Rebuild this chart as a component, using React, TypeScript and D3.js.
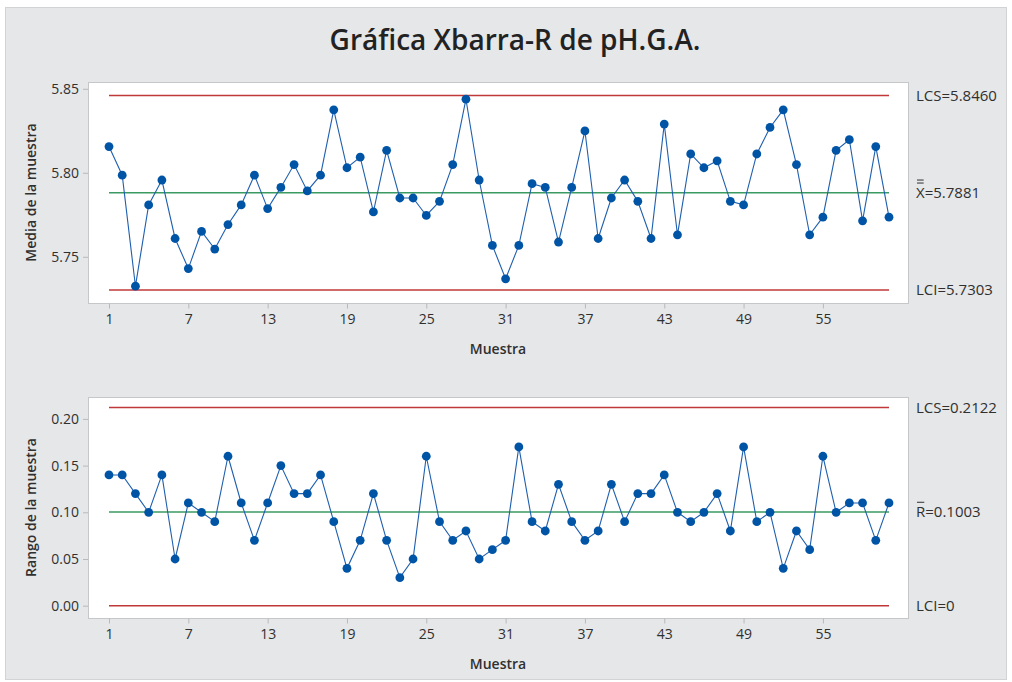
import React, { useRef, useEffect } from 'react';
import * as d3 from 'd3';

// medias por muestra (pH)
const sampleMeans = [
  5.8156, 5.7986, 5.7325, 5.7809, 5.7957, 5.7609, 5.7430, 5.7651, 5.7546, 5.7692,
  5.7809, 5.7986, 5.7787, 5.7913, 5.8049, 5.7892, 5.7986, 5.8375, 5.8030, 5.8093,
  5.7767, 5.8134, 5.7850, 5.7850, 5.7746, 5.7830, 5.8049, 5.8438, 5.7957, 5.7568,
  5.7369, 5.7568, 5.7935, 5.7913, 5.7588, 5.7913, 5.8249, 5.7609, 5.7850, 5.7957,
  5.7830, 5.7609, 5.8290, 5.7631, 5.8112, 5.8030, 5.8071, 5.7830, 5.7809, 5.8112,
  5.8270, 5.8375, 5.8049, 5.7631, 5.7736, 5.8134, 5.8197, 5.7714, 5.8156, 5.7736,
];

// rangos por muestra
const sampleRanges = [
  0.14, 0.14, 0.12, 0.10, 0.14, 0.05, 0.11, 0.10, 0.09, 0.16,
  0.11, 0.07, 0.11, 0.15, 0.12, 0.12, 0.14, 0.09, 0.04, 0.07,
  0.12, 0.07, 0.03, 0.05, 0.16, 0.09, 0.07, 0.08, 0.05, 0.06,
  0.07, 0.17, 0.09, 0.08, 0.13, 0.09, 0.07, 0.08, 0.13, 0.09,
  0.12, 0.12, 0.14, 0.10, 0.09, 0.10, 0.12, 0.08, 0.17, 0.09,
  0.10, 0.04, 0.08, 0.06, 0.16, 0.10, 0.11, 0.11, 0.07, 0.11,
];

const xTicks = [1, 7, 13, 19, 25, 31, 37, 43, 49, 55];
const meanTicks = [5.75, 5.80, 5.85];
const rangeTicks = [0.0, 0.05, 0.10, 0.15, 0.20];

const meanLimits = { lcs: 5.8460, center: 5.7881, lci: 5.7303 };
const rangeLimits = { lcs: 0.2122, center: 0.1003, lci: 0 };

const W = 1012;
const H = 682;
const FONT = '"Open Sans", "Noto Sans", sans-serif';
const TEXT = '#303030';
const BLUE = '#0054A6';
const RED = '#C0383A';
const GREEN = '#3A9A62';

const App = () => {
  const svgRef = useRef<SVGSVGElement>(null);

  useEffect(() => {
    const svg = d3.select(svgRef.current);
    svg.selectAll('*').remove();

    // fondo del panel
    svg.append('rect')
      .attr('x', 5.5).attr('y', 7.5)
      .attr('width', 1001).attr('height', 672)
      .attr('fill', '#E6E7E9')
      .attr('stroke', '#D2D3D5');

    svg.append('text')
      .attr('x', 515).attr('y', 50)
      .attr('text-anchor', 'middle')
      .style('font-family', FONT)
      .style('font-size', '28px')
      .style('font-weight', 600)
      .style('fill', '#222')
      .text('Gráfica Xbarra-R de pH.G.A.');

    const plotLeft = 88;
    const plotRight = 908;

    const x = d3.scaleLinear()
      .domain([1, sampleMeans.length])
      .range([plotLeft + 21, plotRight - 19]);

    const drawPanel = (opts: {
      top: number;
      bottom: number;
      y: d3.ScaleLinear<number, number>;
      values: number[];
      ticks: number[];
      limits: { lcs: number; center: number; lci: number };
      yLabel: string;
      labels: { lcs: string; center: string; lci: string };
      bar: 'double' | 'single';
    }) => {
      const { top, bottom, y, values, ticks, limits } = opts;
      const g = svg.append('g');

      g.append('rect')
        .attr('x', plotLeft + 0.5).attr('y', top + 0.5)
        .attr('width', plotRight - plotLeft).attr('height', bottom - top)
        .attr('fill', '#fff')
        .attr('stroke', '#C6C7C9');

      const yAxis = d3.axisLeft(y)
        .tickValues(ticks)
        .tickFormat(d3.format('.2f'))
        .tickSize(5)
        .tickPadding(4);
      const ya = g.append('g')
        .attr('transform', `translate(${plotLeft},0)`)
        .call(yAxis);
      ya.select('.domain').remove();
      ya.selectAll('.tick line').attr('stroke', '#B8B9BB');
      ya.selectAll('.tick text')
        .style('font-family', FONT)
        .style('font-size', '14px')
        .style('fill', TEXT);

      const xAxis = d3.axisBottom(x)
        .tickValues(xTicks)
        .tickFormat(d3.format('d'))
        .tickSize(5)
        .tickPadding(6);
      const xa = g.append('g')
        .attr('transform', `translate(0,${bottom + 0.5})`)
        .call(xAxis);
      xa.select('.domain').remove();
      xa.selectAll('.tick line').attr('stroke', '#B8B9BB');
      xa.selectAll('.tick text')
        .style('font-family', FONT)
        .style('font-size', '14px')
        .style('fill', TEXT);

      g.append('text')
        .attr('x', (plotLeft + plotRight) / 2)
        .attr('y', bottom + 51)
        .attr('text-anchor', 'middle')
        .style('font-family', FONT)
        .style('font-size', '14px')
        .style('font-weight', 600)
        .style('fill', TEXT)
        .text('Muestra');

      g.append('text')
        .attr('transform', `translate(36,${(top + bottom) / 2}) rotate(-90)`)
        .attr('text-anchor', 'middle')
        .style('font-family', FONT)
        .style('font-size', '14px')
        .style('font-weight', 600)
        .style('fill', TEXT)
        .text(opts.yLabel);

      // lineas de control
      const x0 = x(1);
      const x1 = x(values.length);
      [
        { v: limits.lcs, c: RED },
        { v: limits.center, c: GREEN },
        { v: limits.lci, c: RED },
      ].forEach(l => {
        g.append('line')
          .attr('x1', x0).attr('x2', x1)
          .attr('y1', y(l.v)).attr('y2', y(l.v))
          .attr('stroke', l.c)
          .attr('stroke-width', 1.5);
      });

      const line = d3.line<number>()
        .x((d, i) => x(i + 1))
        .y(d => y(d));

      g.append('path')
        .datum(values)
        .attr('fill', 'none')
        .attr('stroke', '#1F5FAF')
        .attr('stroke-width', 1.1)
        .attr('d', line);

      g.selectAll('.point')
        .data(values)
        .enter()
        .append('circle')
        .attr('cx', (d, i) => x(i + 1))
        .attr('cy', d => y(d))
        .attr('r', 4.4)
        .attr('fill', BLUE);

      // etiquetas a la derecha
      const lx = plotRight + 8;
      const lab = (v: number, t: string) =>
        g.append('text')
          .attr('x', lx).attr('y', y(v))
          .attr('dy', '0.35em')
          .style('font-family', FONT)
          .style('font-size', '15px')
          .style('fill', TEXT)
          .text(t);
      lab(limits.lcs, opts.labels.lcs);
      lab(limits.lci, opts.labels.lci);
      const ct = lab(limits.center, opts.labels.center);
      const node = ct.node() as SVGTextElement;
      const ext = node.getExtentOfChar(0);
      const barY = ext.y + 1;
      const nBars = opts.bar === 'double' ? 2 : 1;
      for (let k = 0; k < nBars; k++) {
        g.append('line')
          .attr('x1', ext.x + 1).attr('x2', ext.x + ext.width - 1)
          .attr('y1', barY - k * 3).attr('y2', barY - k * 3)
          .attr('stroke', TEXT)
          .attr('stroke-width', 1);
      }
    };

    const yMean = d3.scaleLinear().domain([5.75, 5.85]).range([256.8, 88.8]);
    drawPanel({
      top: 82, bottom: 303, y: yMean, values: sampleMeans, ticks: meanTicks,
      limits: meanLimits, yLabel: 'Media de la muestra',
      labels: { lcs: 'LCS=5.8460', center: 'X=5.7881', lci: 'LCI=5.7303' },
      bar: 'double',
    });

    const yRange = d3.scaleLinear().domain([0, 0.2]).range([605.7, 418.9]);
    drawPanel({
      top: 397, bottom: 618, y: yRange, values: sampleRanges, ticks: rangeTicks,
      limits: rangeLimits, yLabel: 'Rango de la muestra',
      labels: { lcs: 'LCS=0.2122', center: 'R=0.1003', lci: 'LCI=0' },
      bar: 'single',
    });
  }, []);

  return (
    <svg
      ref={svgRef}
      width={W}
      height={H}
      style={{ position: 'absolute', left: 0, top: 0, display: 'block', background: '#fff' }}
    />
  );
};

export default App;
